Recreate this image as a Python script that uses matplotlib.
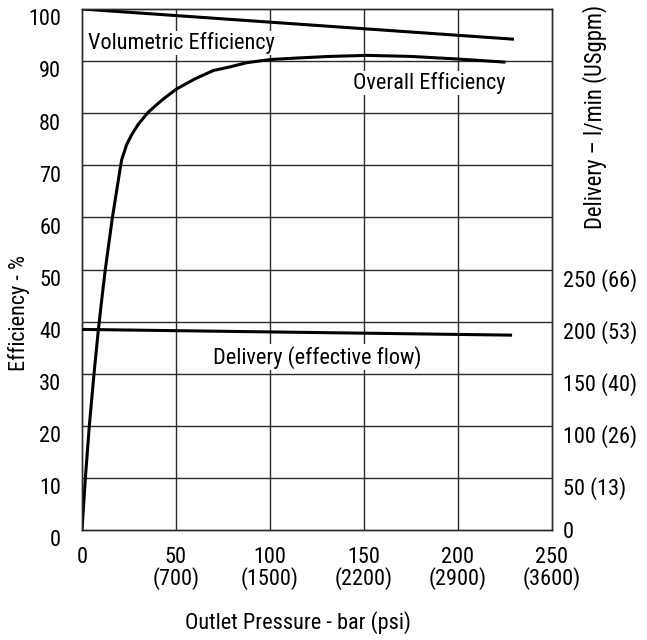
import os
import matplotlib
matplotlib.use("Agg")
import matplotlib.pyplot as plt
from matplotlib.transforms import ScaledTranslation
from matplotlib import font_manager as fm

_fp = "/usr/share/fonts/truetype/roboto/unhinted/RobotoCondensed-Regular.ttf"
fam = ['DejaVu Sans']
if os.path.exists(_fp):
    fm.fontManager.addfont(_fp)
    fam = [fm.FontProperties(fname=_fp).get_name(), 'DejaVu Sans']
plt.rcParams['font.family'] = fam

# ---- data ----
x_ticks = [0, 50, 100, 150, 200, 250]
x_tick_labels = ["0", "50\n(700)", "100\n(1500)", "150\n(2200)", "200\n(2900)", "250\n(3600)"]
y_ticks = [0, 10, 20, 30, 40, 50, 60, 70, 80, 90, 100]
y2_ticks = [0, 50, 100, 150, 200, 250]
y2_tick_labels = ["0", "50 (13)", "100 (26)", "150 (40)", "200 (53)", "250 (66)"]

vol_p = [0, 230]
vol_eff = [100, 94.2]

del_p = [0, 229]
del_flow = [192.5, 187.0]

ov_p = [0, 1.8, 3.9, 6.4, 8.7, 10.5, 12.4, 16.2, 20.6, 21.1,
        21.7, 23.8, 26.5, 30.0, 35.3, 42.5, 50.1, 60.2, 70.0, 78.9,
        87.8, 100.2, 115, 132, 151.7, 175, 200, 225.5]
ov_eff = [0, 10, 20, 30, 38.4, 44.2, 50, 60, 70, 71.0,
          71.7, 74.0, 75.9, 77.9, 80.2, 82.5, 84.6, 86.6, 88.2, 88.9,
          89.7, 90.3, 90.6, 90.9, 91.1, 90.9, 90.4, 89.8]

# ---- figure ----
fig = plt.figure(figsize=(6.47, 6.4), dpi=100)
L, R, B, T = 82/647, 551.5/647, 1-530/640, 1-9/640
ax = fig.add_axes([L, B, R-L, T-B])
ax2 = ax.twinx()

grid_c = '#2a2a2a'
ax.set_xlim(0, 250)
ax.set_ylim(0, 100)
ax2.set_ylim(0, 500)
for y in y_ticks[1:-1]:
    ax.axhline(y, color=grid_c, lw=1.0, zorder=1)
for x in x_ticks[1:-1]:
    ax.axvline(x, color=grid_c, lw=1.0, zorder=1)

for sp in list(ax.spines.values()) + list(ax2.spines.values()):
    sp.set_color(grid_c)
    sp.set_linewidth(1.0)

ax.plot(vol_p, vol_eff, color='black', lw=2.2, zorder=3, solid_capstyle='butt')
ax.plot(ov_p, ov_eff, color='black', lw=2.2, zorder=3, solid_capstyle='butt',
        solid_joinstyle='round')
ax2.plot(del_p, del_flow, color='black', lw=2.2, zorder=3, solid_capstyle='butt')

fs = 16
ax.set_xticks(x_ticks)
ax.set_xticklabels(x_tick_labels, fontsize=fs, linespacing=0.95)
ax.set_yticks(y_ticks)
ax.set_yticklabels([str(v) for v in y_ticks], fontsize=fs)
ax2.set_yticks(y2_ticks)
ax2.set_yticklabels(y2_tick_labels, fontsize=fs)
ax.tick_params(axis='y', length=0, pad=15)
ax.tick_params(axis='x', length=0, pad=12)
ax2.tick_params(length=0, pad=8)

off = ScaledTranslation(0, -6/72, fig.dpi_scale_trans)
for lab in ax.get_yticklabels() + ax2.get_yticklabels()[1:]:
    lab.set_transform(lab.get_transform() + off)

bb = dict(facecolor='white', edgecolor='none', pad=1.0)
ax.text(3.2, 93.5, "Volumetric Efficiency", fontsize=fs, ha='left', va='center', bbox=bb, zorder=4)
ax.text(144.5, 85.8, "Overall Efficiency", fontsize=fs, ha='left', va='center', bbox=bb, zorder=4)
ax.text(69.8, 33.2, "Delivery (effective flow)", fontsize=fs, ha='left', va='center', bbox=bb, zorder=4)

fig.text(298/647, 1-623/640, "Outlet Pressure - bar (psi)", fontsize=fs, ha='center', va='center')
fig.text(19/647, 1-313/640, "Efficiency - %", fontsize=fs, ha='center', va='center', rotation=90)
fig.text(595/647, 1-117/640, "Delivery \u2013 l/min (USgpm)", fontsize=16.3, ha='center', va='center', rotation=90)

fig.savefig("out.png", dpi=100)
